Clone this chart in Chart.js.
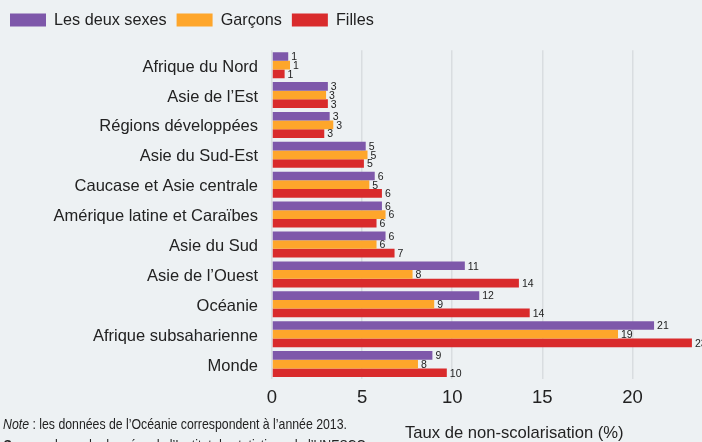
<!DOCTYPE html>
<html lang="fr">
<head>
<meta charset="utf-8">
<script src="https://cdn.jsdelivr.net/npm/chart.js@4.4.0/dist/chart.umd.min.js"></script>
<style>
  html, body { margin: 0; padding: 0; background: #edf1f3; overflow: hidden; }
  #wrap { position: relative; width: 702px; height: 442px; }
  #note {
    position: absolute; left: 3px; top: 413px; color: #222;
    font: 15px 'Liberation Sans', sans-serif;
    line-height: 21px; white-space: nowrap;
    transform: scaleX(0.82); transform-origin: 0 0;
  }
  #xtitle {
    position: absolute; left: 405px; top: 423px; color: #222;
    font: 16.6px 'Liberation Sans', sans-serif; white-space: nowrap;
  }
</style>
</head>
<body>
<div id="wrap">
  <canvas id="chart" width="702" height="442"></canvas>
  <div id="note"><i>Note</i> : les données de l’Océanie correspondent à l’année 2013.<br><b><i>Source</i></b> : base de données de l’Institut de statistique de l’UNESCO.</div>
  <div id="xtitle">Taux de non-scolarisation (%)</div>
</div>
<script>
const categories = ['Afrique du Nord', 'Asie de l’Est', 'Régions développées', 'Asie du Sud-Est',
    'Caucase et Asie centrale', 'Amérique latine et Caraïbes', 'Asie du Sud', 'Asie de l’Ouest',
    'Océanie', 'Afrique subsaharienne', 'Monde'];
const lesDeuxSexes = [0.9, 3.1, 3.2, 5.2, 5.7, 6.1, 6.3, 10.7, 11.5, 21.2, 8.9];
const garcons = [1.0, 3.0, 3.4, 5.3, 5.4, 6.3, 5.8, 7.8, 9.0, 19.2, 8.1];
const filles = [0.7, 3.1, 2.9, 5.1, 6.1, 5.8, 6.8, 13.7, 14.3, 23.3, 9.7];
const xTicks = [0, 5, 10, 15, 20];

const sans = "'Liberation Sans', sans-serif";

// rounded value written just after the end of each bar
const valueLabels = {
    id: 'valueLabels',
    afterDatasetsDraw(chart) {
        const ctx = chart.ctx;
        ctx.save();
        ctx.font = '10.5px ' + sans;
        ctx.fillStyle = '#222';
        ctx.textBaseline = 'middle';
        chart.data.datasets.forEach((ds, i) => {
            chart.getDatasetMeta(i).data.forEach((bar, j) => {
                ctx.fillText(Math.round(ds.data[j]), bar.x + 3, bar.y + 1);
            });
        });
        ctx.restore();
    }
};

const ctx = document.getElementById('chart').getContext('2d');
new Chart(ctx, {
    type: 'bar',
    data: {
        labels: categories,
        datasets: [
            {label: 'Les deux sexes', data: lesDeuxSexes, backgroundColor: '#7e58aa'},
            {label: 'Garçons', data: garcons, backgroundColor: '#fea62b'},
            {label: 'Filles', data: filles, backgroundColor: '#d92b2c'}
        ]
    },
    plugins: [valueLabels],
    options: {
        responsive: false,
        animation: false,
        indexAxis: 'y',
        layout: {padding: {top: 2, left: 0, right: 0, bottom: 0}},
        datasets: {bar: {categoryPercentage: 0.87, barPercentage: 1}},
        plugins: {
            legend: {
                position: 'top', align: 'start',
                labels: {boxWidth: 36, boxHeight: 13, padding: 10, color: '#222', font: {family: sans, size: 16.2}}
            },
            // empty spacer between legend and plot
            title: {display: true, text: '', weight: 0, font: {size: 1, lineHeight: 1}, padding: {top: 0, bottom: 11}},
            tooltip: {enabled: false}
        },
        scales: {
            x: {
                min: 0, max: 23.86,
                afterBuildTicks: s => { s.ticks = xTicks.map(v => ({value: v})); },
                afterFit: s => { s.height = 63; },
                grid: {color: '#d9dde0', lineWidth: 1.5, drawTicks: false},
                border: {display: false},
                ticks: {padding: 8, color: '#222', font: {family: sans, size: 18.5}}
            },
            y: {
                afterFit: s => { s.width = 272; },
                grid: {display: false, drawTicks: false},
                border: {display: false},
                ticks: {padding: 14, labelOffset: 2, color: '#222', font: {family: sans, size: 16.5}}
            }
        }
    }
});
</script>
</body>
</html>
